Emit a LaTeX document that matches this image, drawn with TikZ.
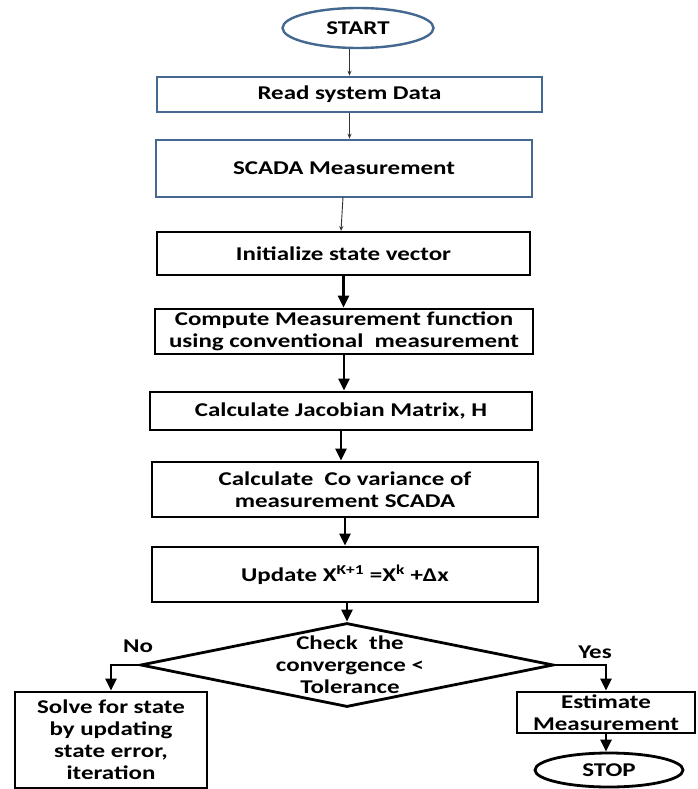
\documentclass[tikz,border=0pt]{standalone}
\usepackage{fontspec}
\setmainfont{Carlito}[FakeStretch=1.28]
\usetikzlibrary{shapes.geometric,arrows.meta}
\definecolor{boxblue}{HTML}{44688F}
\begin{document}
\begin{tikzpicture}[x=1pt,y=-1pt,
  every node/.style={font=\fontsize{19.5}{22}\selectfont\bfseries, align=center, inner sep=0pt},
  bluebox/.style={draw=boxblue, line width=2.6pt, rectangle},
  blackbox/.style={draw=black, line width=2.8pt, rectangle},
  term/.style={ellipse, line width=2.4pt},
  thinarrow/.style={draw=black!80, line width=0.9pt, -{Stealth[length=5pt,width=4pt]}},
  thickarrow/.style={draw=black, line width=2.8pt, -{Triangle[length=12pt,width=11pt]}},
  ]
\useasboundingbox (0,0) rectangle (697,789);
\fill[white] (0,0) rectangle (697,789);

\node[term, draw=boxblue, minimum width=151pt, minimum height=40pt] (start) at (358,28) {START};
\node[bluebox, minimum width=385pt, minimum height=35pt] (rd) at (349.5,94.5) {Read system Data};
\node[bluebox, minimum width=376pt, minimum height=57pt] (scada) at (344,168.5) {SCADA Measurement};
\node[blackbox, minimum width=373pt, minimum height=43pt] (init) at (343.5,253.5) {Initialize state vector};
\node[blackbox, minimum width=378pt, minimum height=45pt] (comp) at (344,331.5) {Compute Measurement function\\using conventional\ \ measurement};
\node[blackbox, minimum width=382pt, minimum height=38pt] (jac) at (341,411) {Calculate Jacobian Matrix, H};
\node[blackbox, minimum width=386pt, minimum height=55pt] (cov) at (345,489.5) {Calculate\ \ Co variance of\\measurement SCADA};
\node[blackbox, minimum width=386pt, minimum height=55pt] (upd) at (345,574.5) {Update X\textsuperscript{K+1} =X\textsuperscript{k} +Δx};
\node[diamond, draw=black, line width=2.8pt, minimum width=413pt, minimum height=84pt] (dia) at (347,665) {};
\node (diatext) at (350,665) {Check\ \ the\\convergence <\\Tolerance};
\node[blackbox, minimum width=192pt, minimum height=96pt] (solve) at (111,740) {Solve for state\\by updating\\state error,\\iteration};
\node[blackbox, minimum width=178pt, minimum height=41pt] (est) at (606,712.5) {Estimate\\Measurement};
\node[term, draw=black, line width=2.8pt, minimum width=148pt, minimum height=34pt] (stop) at (609,770) {STOP};
\node (no) at (138,646) {No};
\node (yes) at (595,652) {Yes};

\draw[thinarrow] (rd.north |- start.south) -- (rd.north);
\draw[thinarrow] (rd.south) -- (rd.south |- scada.north);
\draw[thinarrow] (343,197) -- (341,231);
\draw[thickarrow] (init.south) -- (init.south |- comp.north);
\draw[thickarrow] (comp.south) -- (comp.south |- jac.north);
\draw[thickarrow] (jac.south) -- (jac.south |- cov.north);
\draw[thickarrow] (cov.south) -- (cov.south |- upd.north);
\draw[thickarrow] (upd.south -| dia.north) -- (dia.north);
\draw[thickarrow] (dia.west) -| (solve.north);
\draw[thickarrow] (dia.east) -| (est.north);
\draw[thickarrow] (est.south) -- (est.south |- stop.north);
\end{tikzpicture}
\end{document}
